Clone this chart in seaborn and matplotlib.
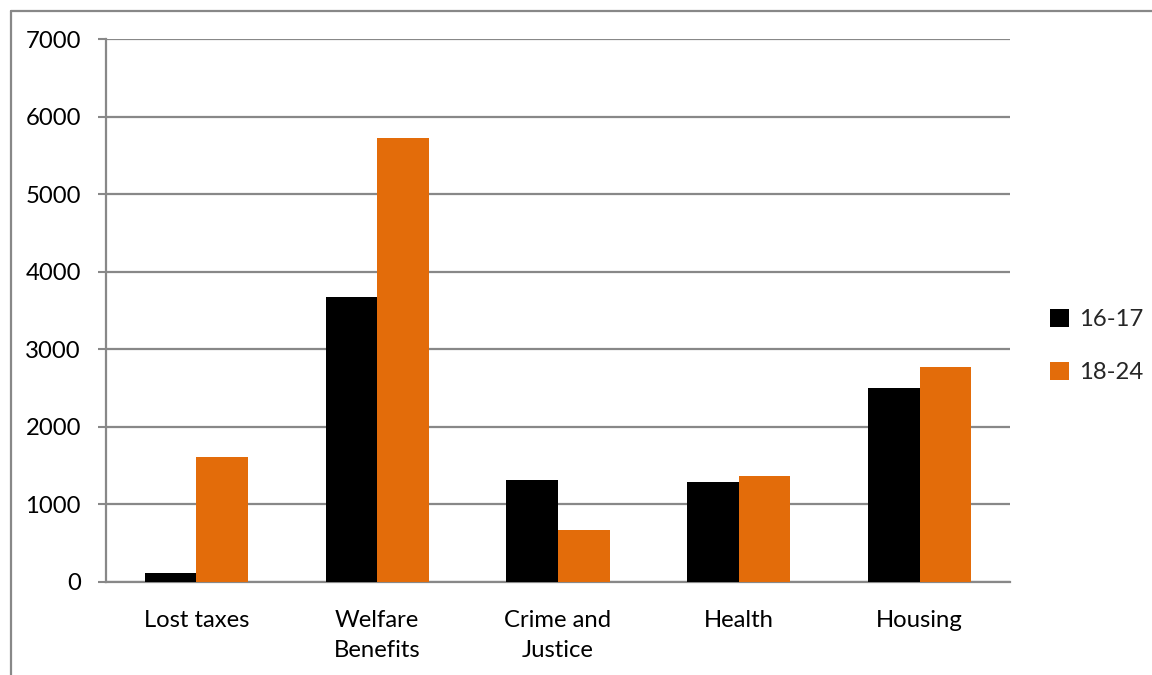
import matplotlib
matplotlib.use("Agg")
import matplotlib.pyplot as plt
import seaborn as sns
import pandas as pd
import numpy as np
from matplotlib.lines import Line2D
from matplotlib.patches import Patch

categories = ["Lost taxes", "Welfare\nBenefits", "Crime and\nJustice", "Health", "Housing"]
series_names = ["16-17", "18-24"]
values_16_17 = [120, 3675, 1315, 1295, 2505]
values_18_24 = [1610, 5725, 667, 1365, 2778]
colors = ["#000000", "#E36C0A"]
y_ticks = [0, 1000, 2000, 3000, 4000, 5000, 6000, 7000]

df = pd.DataFrame({
    "category": categories * 2,
    "series": [series_names[0]] * len(categories) + [series_names[1]] * len(categories),
    "value": values_16_17 + values_18_24,
})

sns.set_theme(style="white")
plt.rcParams["font.family"] = ["Lato", "DejaVu Sans"]

FS = 17.2
W, H = 1152, 675
fig = plt.figure(figsize=(W / 100, H / 100), dpi=100)
ax = fig.add_axes([106 / W, 1 - 582 / H, (1010 - 106) / W, (582 - 39.3) / H])

grid_c = "#888888"
sns.barplot(data=df, x="category", y="value", hue="series", order=categories,
            hue_order=series_names, palette=colors, width=0.57, gap=0,
            saturation=1, ax=ax, legend=False, zorder=3, linewidth=0)

ax.set_ylim(0, 7000)
ax.set_xlim(-0.5, len(categories) - 0.5)
ax.set_yticks(y_ticks)
ax.set_yticklabels([str(v) for v in y_ticks], fontsize=FS, color="black")
ax.yaxis.grid(True, color=grid_c, linewidth=1.6, zorder=0)
ax.set_axisbelow(True)
ax.set_xlabel("")
ax.set_ylabel("")

ax.set_xticks(range(len(categories)))
ax.set_xticklabels(categories, fontsize=FS, color="black", linespacing=1.55)
ax.tick_params(axis="x", which="major", length=0, pad=20)
ax.set_xticks(np.arange(-0.5, len(categories), 1.0), minor=True)
ax.tick_params(axis="x", which="minor", length=6, width=1.5, color=grid_c, direction="out")
ax.tick_params(axis="y", which="major", length=6, width=1.5, color=grid_c, direction="out", pad=12, left=True)

for s in ["top", "right"]:
    ax.spines[s].set_visible(False)
for s in ["left", "bottom"]:
    ax.spines[s].set_visible(True)
    ax.spines[s].set_color(grid_c)
    ax.spines[s].set_linewidth(1.6)

handles = [Patch(facecolor=c, edgecolor="none") for c in colors]
fig.legend(handles, series_names, loc="center left",
           bbox_to_anchor=(1050 / W, 1 - 346 / H), frameon=False, fontsize=FS,
           borderpad=0, borderaxespad=0,
           handlelength=0.8, handleheight=0.8, handletextpad=0.4, labelspacing=1.3)

# outer chart border (left and top edges visible)
fig.add_artist(Line2D([10.5 / W, 10.5 / W], [0, 1 - 10.5 / H], transform=fig.transFigure,
                      color=grid_c, linewidth=1.6))
fig.add_artist(Line2D([10.5 / W, 1], [1 - 10.5 / H, 1 - 10.5 / H], transform=fig.transFigure,
                      color=grid_c, linewidth=1.6))

fig.savefig("out.png", dpi=100, facecolor="white")
